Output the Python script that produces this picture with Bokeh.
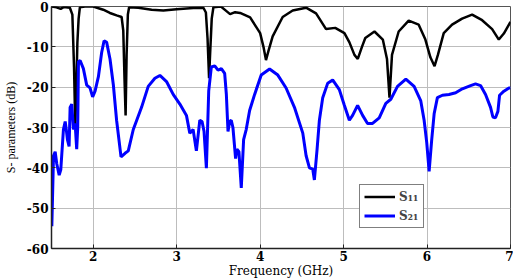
from bokeh.plotting import figure
from bokeh.models import Range1d, FixedTicker, Legend, LegendItem
from bokeh.embed import file_html
from bokeh.resources import INLINE

# ---- data ----
freq_s11 = [1.50, 1.56, 1.61, 1.65, 1.72, 1.75, 1.77, 1.785, 1.80, 1.81, 1.825, 1.84,
            1.90, 2.00, 2.12, 2.20, 2.28, 2.34, 2.36, 2.375, 2.388, 2.40, 2.415, 2.43,
            2.54, 2.70, 2.84, 3.00, 3.20, 3.32, 3.35, 3.37, 3.388, 3.40, 3.42, 3.44,
            3.53, 3.60, 3.64, 3.70, 3.76, 3.88, 4.00, 4.04, 4.07, 4.10, 4.15, 4.27,
            4.39, 4.55, 4.67, 4.79, 4.90, 5.01, 5.07, 5.13, 5.17, 5.22, 5.26, 5.37,
            5.47, 5.52, 5.55, 5.58, 5.66, 5.78, 5.90, 5.98, 6.04, 6.09, 6.13, 6.20,
            6.30, 6.42, 6.54, 6.66, 6.78, 6.86, 6.92, 7.00]
s11 = [0.0, -0.2, -0.6, -0.1, -0.3, -2.0, -15.0, -30.0, -18.0, -9.0, -3.0, -0.2,
       0.0, 0.0, -0.8, -1.6, -2.2, -2.6, -6.0, -18.0, -27.0, -12.0, -2.0, -0.2,
       -0.3, -0.8, -1.0, -0.7, -0.4, -0.3, -1.5, -8.0, -17.8, -12.0, -3.0, -0.2,
       0.0, -1.2, -1.9, -1.4, -1.6, -2.7, -6.6, -10.0, -13.3, -11.0, -7.4, -2.6,
       -1.0, -0.3, -1.7, -5.6, -5.3, -6.6, -8.9, -12.0, -13.0, -10.0, -7.8, -6.2,
       -8.2, -13.0, -22.6, -12.0, -6.2, -3.5, -4.5, -8.2, -12.6, -14.8, -12.0, -6.6,
       -4.5, -3.0, -2.0, -3.4, -5.6, -8.2, -6.7, -3.8]

freq_s21 = [1.504, 1.515, 1.524, 1.544, 1.563, 1.592, 1.611, 1.643, 1.664, 1.68, 1.691,
            1.711, 1.723, 1.743, 1.763, 1.783, 1.802, 1.814, 1.823, 1.843, 1.882, 1.922,
            1.962, 1.993, 2.022, 2.062, 2.101, 2.13, 2.161, 2.201, 2.241, 2.28, 2.312,
            2.333, 2.381, 2.42, 2.48, 2.579, 2.659, 2.739, 2.799, 2.878, 2.958, 3.038,
            3.117, 3.157, 3.197, 3.236, 3.277, 3.304, 3.328, 3.356, 3.384, 3.415, 3.456,
            3.495, 3.535, 3.575, 3.595, 3.615, 3.635, 3.654, 3.674, 3.706, 3.722, 3.746,
            3.774, 3.802, 3.833, 3.874, 3.934, 4.013, 4.113, 4.212, 4.311, 4.411, 4.511,
            4.551, 4.591, 4.63, 4.65, 4.682, 4.71, 4.75, 4.81, 4.869, 4.949, 5.009,
            5.069, 5.108, 5.168, 5.228, 5.287, 5.347, 5.427, 5.506, 5.566, 5.646, 5.746,
            5.845, 5.925, 5.965, 5.996, 6.025, 6.056, 6.085, 6.124, 6.184, 6.263, 6.343,
            6.423, 6.522, 6.581, 6.641, 6.701, 6.761, 6.789, 6.82, 6.849, 6.869, 6.921,
            6.981, 7.0]
s21 = [-54.5, -45.0, -37.0, -36.0, -39.0, -41.8, -40.5, -30.5, -28.5, -31.0, -33.0,
       -34.7, -25.0, -24.2, -30.5, -29.0, -35.4, -30.0, -13.7, -13.4, -15.4, -19.5,
       -20.2, -22.4, -21.0, -17.4, -11.4, -8.5, -8.9, -13.0, -19.4, -28.2, -33.7,
       -37.3, -36.4, -35.8, -30.5, -25.0, -19.8, -17.8, -17.1, -18.6, -21.8, -24.2,
       -27.0, -31.4, -30.5, -35.8, -28.2, -28.5, -31.0, -40.1, -20.9, -15.0, -14.7,
       -15.8, -15.4, -16.6, -21.7, -31.0, -28.5, -28.2, -30.0, -37.7, -35.4, -36.0,
       -45.0, -33.0, -30.5, -25.8, -21.8, -17.0, -15.5, -17.0, -20.2, -25.0, -31.4,
       -37.0, -40.0, -40.3, -43.0, -35.5, -28.2, -22.6, -19.0, -18.2, -20.6, -24.5,
       -28.2, -27.0, -24.5, -27.0, -29.0, -29.0, -27.6, -24.0, -23.0, -19.8, -18.0,
       -19.8, -23.4, -28.2, -33.7, -40.9, -33.0, -26.6, -22.6, -22.0, -21.8, -21.4,
       -20.4, -19.6, -19.2, -19.6, -21.8, -25.0, -27.4, -27.6, -26.0, -22.0, -21.0,
       -20.2, -20.2]

x_ticks = [2, 3, 4, 5, 6, 7]
y_ticks = [-60, -50, -40, -30, -20, -10, 0]
x_label = "Frequency (GHz)"
y_label = "S- parameters (dB)"
legend_labels = ["S\u2081\u2081", "S\u2082\u2081"]

# ---- figure ----
p = figure(width=513, height=280, output_backend="svg", toolbar_location=None,
           x_range=Range1d(1.5, 7.0), y_range=Range1d(-60, 0),
           min_border_left=48, min_border_right=3, min_border_top=6,
           min_border_bottom=10)
p.background_fill_color = "white"
p.border_fill_color = "white"
p.outline_line_color = "#555555"
p.outline_line_width = 1

r1 = p.line(freq_s11, s11, line_color="black", line_width=2.5)
r2 = p.line(freq_s21, s21, line_color="#0000ff", line_width=3)

p.xaxis.ticker = FixedTicker(ticks=x_ticks)
p.yaxis.ticker = FixedTicker(ticks=y_ticks)
p.yaxis.major_label_overrides = {t: str(t) for t in y_ticks}
for g in (p.xgrid, p.ygrid):
    g.grid_line_color = "#bdbdbd"
    g.grid_line_width = 1

for ax in (p.xaxis, p.yaxis):
    ax.major_label_text_font = "DejaVu Serif"
    ax.major_label_text_font_style = "bold"
    ax.major_label_text_font_size = "12px"
    ax.major_label_text_color = "black"
    ax.major_tick_in = 4
    ax.major_tick_out = 0
    ax.minor_tick_line_color = None
    ax.major_label_standoff = 3
    ax.axis_line_color = "#222222"
    ax.axis_line_width = 1.5
    ax.major_tick_line_color = "#222222"

p.xaxis.major_label_standoff = 2
p.xaxis.axis_label = x_label
p.xaxis.axis_label_text_font = "DejaVu Serif"
p.xaxis.axis_label_text_font_style = "normal"
p.xaxis.axis_label_text_font_size = "12px"
p.xaxis.axis_label_standoff = 0
p.xaxis.axis_label_text_color = "black"

p.yaxis.axis_label = y_label
p.yaxis.axis_label_text_font = "Liberation Serif"
p.yaxis.axis_label_text_font_style = "normal"
p.yaxis.axis_label_text_font_size = "12px"
p.yaxis.axis_label_standoff = 6
p.yaxis.axis_label_text_color = "black"

legend = Legend(items=[LegendItem(label=legend_labels[0], renderers=[r1]),
                       LegendItem(label=legend_labels[1], renderers=[r2])],
                location=(308, 20))
legend.label_text_font = "DejaVu Serif"
legend.label_text_font_style = "bold"
legend.label_text_font_size = "12px"
legend.border_line_color = "black"
legend.border_line_width = 1
legend.background_fill_color = "white"
legend.background_fill_alpha = 1.0
legend.padding = 4
legend.spacing = 4
legend.margin = 0
legend.glyph_width = 31
legend.glyph_height = 15
legend.label_height = 15
legend.label_standoff = 4
p.add_layout(legend)

open("out.html", "w").write(file_html(p, INLINE))
